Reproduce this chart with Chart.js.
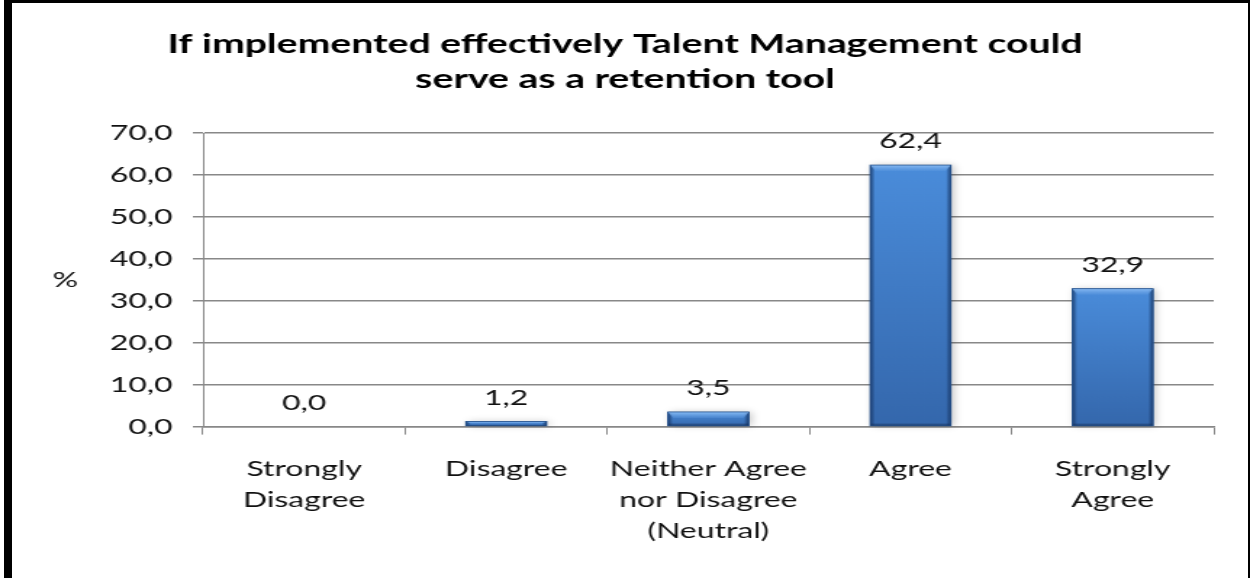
<!DOCTYPE html>
<html>
<head>
<meta charset="utf-8">
<script src="https://cdn.jsdelivr.net/npm/chart.js@4.4.1/dist/chart.umd.min.js"></script>
<style>
  html, body { margin: 0; padding: 0; background: #fff; }
  body { width: 1250px; height: 578px; position: relative; overflow: hidden; }
  /* chart is laid out narrow and stretched sideways, like a resized office chart */
  #wrap { position: absolute; left: 0; top: 0; width: 862px; height: 578px;
          transform: scaleX(1.4501); transform-origin: 0 0; }
  #frame { position: absolute; left: 4px; top: 0; width: 1246px; height: 600px;
           box-sizing: border-box; border-left: 8px solid #000; border-top: 3px solid #000;
           border-right: 2px solid #000; pointer-events: none; }
</style>
</head>
<body>
<div id="wrap"><canvas id="bar-chart"></canvas></div>
<div id="frame"></div>
<script>
    const categories = [
        ['Strongly', 'Disagree'],
        'Disagree',
        ['Neither Agree', 'nor Disagree', '(Neutral)'],
        'Agree',
        ['Strongly', 'Agree']
    ];
    const percentages = [0.0, 1.2, 3.5, 62.4, 32.9];
    const yMin = 0, yMax = 70, yStep = 10;

    const fontFamily = 'Lato, "Open Sans", sans-serif';
    const fmt = v => v.toFixed(1).replace('.', ',');

    // bevelled blue bars with a soft shadow, then the value above each bar
    const bevelBars = {
        id: 'bevelBars',
        afterDatasetsDraw(chart) {
            const ctx = chart.ctx;
            const meta = chart.getDatasetMeta(0);
            meta.data.forEach((bar, i) => {
                const p = bar.getProps(['x', 'y', 'base', 'width'], true);
                const h = p.base - p.y;
                const l = p.x - p.width / 2, r = p.x + p.width / 2;
                if (h > 0.5) {
                    ctx.save();
                    ctx.shadowColor = 'rgba(0,0,0,0.22)';
                    ctx.shadowBlur = 6;
                    ctx.shadowOffsetX = 2;
                    let g = ctx.createLinearGradient(0, p.y, 0, p.base);
                    g.addColorStop(0, '#4a8cda');
                    g.addColorStop(1, '#3467ac');
                    ctx.fillStyle = g;
                    ctx.fillRect(l, p.y, p.width, h);
                    ctx.restore();

                    ctx.save();
                    const e = Math.min(3.5, p.width / 4);
                    const t = Math.min(6, h / 2);
                    // left / right edge shading
                    g = ctx.createLinearGradient(l, 0, l + e, 0);
                    g.addColorStop(0, 'rgba(22,52,98,0.85)');
                    g.addColorStop(1, 'rgba(22,52,98,0)');
                    ctx.fillStyle = g;
                    ctx.fillRect(l, p.y, e, h);
                    g = ctx.createLinearGradient(r, 0, r - e, 0);
                    g.addColorStop(0, 'rgba(22,52,98,0.85)');
                    g.addColorStop(1, 'rgba(22,52,98,0)');
                    ctx.fillStyle = g;
                    ctx.fillRect(r - e, p.y, e, h);
                    // top highlight
                    g = ctx.createLinearGradient(0, p.y, 0, p.y + t);
                    g.addColorStop(0, 'rgba(140,190,245,0.95)');
                    g.addColorStop(1, 'rgba(110,165,230,0.2)');
                    ctx.fillStyle = g;
                    ctx.beginPath();
                    ctx.moveTo(l, p.y);
                    ctx.lineTo(r, p.y);
                    ctx.lineTo(r - e, p.y + t);
                    ctx.lineTo(l + e, p.y + t);
                    ctx.closePath();
                    ctx.fill();
                    // bottom edge
                    const b = Math.min(3, h / 3);
                    g = ctx.createLinearGradient(0, p.base - b, 0, p.base);
                    g.addColorStop(0, 'rgba(20,45,85,0)');
                    g.addColorStop(1, 'rgba(20,45,85,0.8)');
                    ctx.fillStyle = g;
                    ctx.fillRect(l, p.base - b, p.width, b);
                    ctx.strokeStyle = '#24508a';
                    ctx.lineWidth = 0.8;
                    ctx.strokeRect(l, p.y, p.width, h);
                    ctx.restore();
                }
                ctx.save();
                ctx.font = '22px ' + fontFamily;
                ctx.fillStyle = '#111';
                ctx.textAlign = 'center';
                ctx.textBaseline = 'alphabetic';
                ctx.fillText(fmt(percentages[i]), p.x, p.y - 17);
                ctx.restore();
            });
        },
        afterDraw(chart) {
            const ctx = chart.ctx;
            const area = chart.chartArea;
            ctx.save();
            ctx.font = '22px ' + fontFamily;
            ctx.fillStyle = '#111';
            ctx.textAlign = 'center';
            ctx.textBaseline = 'middle';
            ctx.fillText('%', 45, (area.top + area.bottom) / 2);
            ctx.restore();
        }
    };

    const barChart = new Chart(document.getElementById('bar-chart'), {
        type: 'bar',
        data: {
            labels: categories,
            datasets: [{
                data: percentages,
                backgroundColor: '#3f7cc8',
                borderWidth: 0,
                barPercentage: 0.4,
                categoryPercentage: 1
            }]
        },
        options: {
            responsive: true,
            maintainAspectRatio: false,
            animation: false,
            layout: { padding: { left: 25, right: 25, top: 0, bottom: 13 } },
            plugins: {
                legend: { display: false },
                tooltip: { enabled: false },
                title: {
                    display: true,
                    text: ['If implemented effectively Talent Management could', 'serve as a retention tool'],
                    color: '#000',
                    font: { family: fontFamily, size: 27, weight: 'bold', lineHeight: 1.3 },
                    padding: { top: 27, bottom: 36 }
                }
            },
            scales: {
                x: {
                    grid: { drawOnChartArea: false, color: '#888', tickLength: 8, lineWidth: 1 },
                    border: { color: '#888', width: 1.5 },
                    ticks: {
                        color: '#111',
                        font: { family: fontFamily, size: 22, lineHeight: 1.4 },
                        padding: 19,
                        maxRotation: 0,
                        autoSkip: false
                    }
                },
                y: {
                    min: yMin,
                    max: yMax,
                    afterFit(scale) { scale.width = 115; },
                    grid: { color: '#888', lineWidth: 1.5, tickLength: 7 },
                    border: { color: '#888', width: 1 },
                    ticks: {
                        stepSize: yStep,
                        color: '#111',
                        font: { family: fontFamily, size: 22 },
                        padding: 14,
                        callback: v => fmt(v)
                    }
                }
            }
        },
        plugins: [bevelBars]
    });
</script>
</body>
</html>
